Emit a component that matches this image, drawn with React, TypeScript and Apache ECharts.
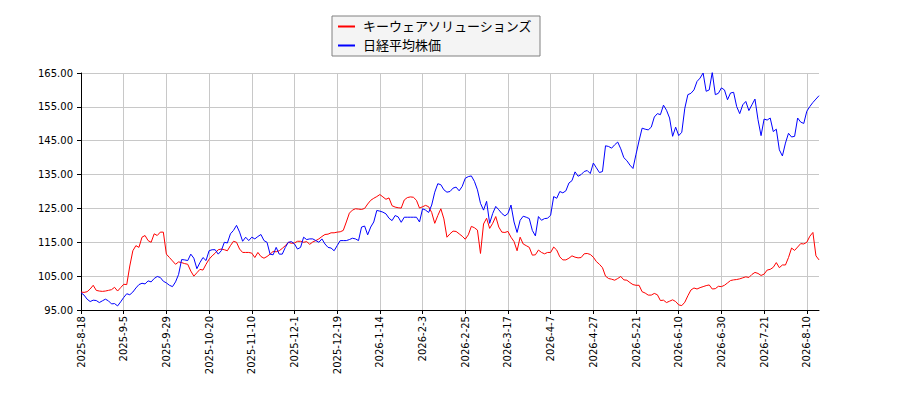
import { useEffect, useRef } from "react";
import * as echarts from "echarts";

const tickLabels = [
  "2025-8-18", "2025-9-5", "2025-9-29", "2025-10-20", "2025-11-10", "2025-12-1",
  "2025-12-19", "2026-1-14", "2026-2-3", "2026-2-25", "2026-3-17", "2026-4-7",
  "2026-4-27", "2026-5-21", "2026-6-10", "2026-6-30", "2026-7-21", "2026-8-10",
];

// trading days, one tick label every 14 sessions
const TICK_EVERY = 14;

const keyware = [
  100.3, 100.2, 100.4, 101.2, 102.3, 100.8, 100.6, 100.5, 100.6, 100.8, 101.0, 101.7, 100.6, 101.6,
  102.6, 102.5, 108, 112.5, 114, 113.5, 116.5, 117, 115.5, 115, 117.5, 117, 118, 118,
  111.5, 110.5, 109.5, 108.5, 109.2, 109, 108.7, 108.5, 106.5, 105, 106, 107, 106.8, 108.5,
  110, 111, 111.8, 112.8, 113, 112.8, 112.5, 114, 115.3, 115, 113, 112, 112, 112,
  111.8, 110.5, 112, 110.8, 110.3, 110.8, 111.5, 112.3, 112.2, 112.5, 113.2, 114, 115, 114.7,
  114.8, 115.3, 115.3, 115, 115.2, 114.4, 115.1, 115.5, 116, 116.7, 117.3, 117.4, 117.8, 117.8,
  118, 118.1, 118.5, 121, 123.6, 124.5, 124.9, 124.8, 124.7, 125, 126.3, 127.4, 128, 128.5,
  129.1, 128.4, 127.7, 128.1, 125.8, 125.4, 125.2, 125.1, 127.5, 128.2, 128.4, 128.3, 127.4, 125.1,
  125.5, 125.9, 125.5, 123.8, 120.6, 122.9, 124.9, 121.9, 116.5, 117.5, 118.3, 118.2, 117.5, 116.8,
  115.9, 117.2, 119.7, 119.3, 118.6, 111.7, 120.4, 122.1, 119.1, 120.6, 122.6, 119.5, 118, 117.9,
  118.2, 116.5, 115.2, 112.5, 116.5, 114.5, 114, 113.5, 111.2, 111.3, 112.7, 112, 111.6, 112,
  112, 113.6, 112.7, 110.7, 109.8, 109.8, 110.3, 111, 110.6, 110.4, 110.5, 111.6, 111.7, 111.4,
  110.6, 109.3, 108.5, 107.5, 105, 104.3, 104.1, 103.8, 104.3, 104.9, 103.9, 103.8, 103.1, 102.5,
  102.3, 102.3, 100.4, 100, 99.4, 99.4, 99.9, 99.5, 97.8, 97.9, 97.2, 97.6, 98, 97.5,
  96.5, 96.3, 97.3, 99.2, 100.9, 101.5, 101.2, 101.6, 101.9, 102.2, 102.4, 101.2, 101.3, 102,
  101.9, 102.3, 103, 103.7, 103.9, 104, 104.2, 104.5, 104.8, 104.6, 105.5, 106.1, 105.8, 105.2,
  105.6, 106.8, 107, 107.6, 109, 107.5, 108.3, 108.3, 110.5, 113.3, 112.6, 113.6, 114.6, 114.5,
  115, 116.8, 117.9, 111, 109.8,
];

const nikkei = [
  100.1, 99.4, 98.2, 97.5, 97.9, 97.8, 97.2, 97.7, 98.2, 97.7, 96.8, 96.9, 96.2, 97.4,
  98.7, 99.8, 99.5, 100.3, 101.5, 102.5, 102.9, 102.7, 103.6, 103.3, 104.3, 104.9, 104.6, 103.5,
  103, 102.3, 101.9, 103.3, 105.5, 109.9, 109.8, 109.6, 111.5, 110.3, 107.2, 109, 110.5, 109.6,
  112.5, 112.8, 112.8, 111.5, 112.5, 115, 114.8, 117.5, 118.5, 120, 118, 115.3, 116.5, 115.5,
  116.5, 116, 116.7, 117.3, 115.5, 115, 111.5, 111.3, 113.5, 111.5, 111.5, 113.5, 115, 115.2,
  114.5, 113, 113.5, 116.5, 115.8, 116, 116, 115.5, 115, 116, 114.5, 113.5, 113.3, 112.5,
  114, 115.5, 115.5, 115.5, 115.8, 116.2, 116, 115.5, 119.5, 119.8, 117.2, 119.5, 121, 124.4,
  124.2, 123.9, 123.4, 122.1, 121.4, 122.9, 122.5, 120.9, 122.4, 122.4, 122.4, 122.4, 122.4, 121,
  124.9, 124.5, 123.8, 126, 129.8, 132.3, 132, 130.5, 129.8, 130, 131, 131.3, 130.2, 131.5,
  133.9, 134.4, 134.6, 133, 130.5, 126.5, 124.5, 127.1, 120.6, 123.5, 125.6, 124.6, 123.5, 122.8,
  123.5, 126, 121, 117.9, 121.5, 122.7, 122.4, 122, 118.5, 116.9, 122.6, 121.5, 122, 122.1,
  123, 128.5, 128, 130, 129.6, 130.2, 132.5, 133.2, 135.8, 134.5, 135, 135.9, 136.2, 135.3,
  138.4, 137, 135.6, 135.9, 143.5, 143.3, 142.8, 143.8, 144.6, 142.6, 140, 139.1, 137.8, 136.8,
  141, 145, 148.7, 148.4, 148.2, 149, 152, 153, 152.7, 155.5, 154, 151.7, 146.3, 149,
  146.5, 147.5, 154.6, 158.6, 159, 160, 162.5, 163.5, 165, 159.6, 160, 165.2, 158.6, 159,
  160.6, 160, 157.1, 159.1, 159.3, 155.1, 153, 155.6, 156.6, 153.9, 155.6, 157.3, 151.2, 146.5,
  151.4, 151.1, 151.7, 147.7, 148.4, 142.3, 140.5, 144.3, 147.2, 146.1, 146.3, 151.7, 150.5, 150.1,
  153.7, 155.1, 156.3, 157.3, 158.3,
];

const seriesNames = ["キーウェアソリューションズ", "日経平均株価"];

const FONT = "'DejaVu Sans', 'Noto Sans CJK JP', sans-serif";

const onTick = (index: number) => index % TICK_EVERY === 0;

export default function App() {
  const ref = useRef<HTMLDivElement>(null);

  useEffect(() => {
    if (!ref.current) return;
    const chart = echarts.init(ref.current, undefined, { renderer: "svg" });
    const days = keyware.map((_, i) => String(i));

    chart.setOption({
      animation: false,
      backgroundColor: "#ffffff",
      textStyle: { fontFamily: FONT },
      grid: { left: 81, right: 81, top: 73, bottom: 90 },
      legend: {
        orient: "vertical",
        left: 332,
        top: 16,
        padding: [3, 8, 3, 6],
        itemGap: 4,
        itemWidth: 17,
        itemHeight: 2,
        icon: "rect",
        backgroundColor: "#f4f4f4",
        borderColor: "#808080",
        borderWidth: 1,
        borderRadius: 0,
        textStyle: {
          fontFamily: FONT,
          fontSize: 13,
          lineHeight: 15,
          color: "#000",
          padding: [0, 0, 0, 3],
        },
        data: seriesNames,
      },
      xAxis: {
        type: "category",
        boundaryGap: false,
        data: days,
        axisLine: { lineStyle: { color: "#000", width: 1 } },
        axisTick: { interval: onTick, length: 4, lineStyle: { color: "#000" } },
        splitLine: { show: true, interval: onTick, lineStyle: { color: "#c8c8c8", width: 1 } },
        axisLabel: {
          interval: onTick,
          rotate: 90,
          margin: 6,
          fontSize: 10,
          fontFamily: FONT,
          color: "#000",
          formatter: (v: string) => {
            const i = Number(v);
            return i % TICK_EVERY === 0 ? tickLabels[i / TICK_EVERY] ?? "" : "";
          },
        },
      },
      yAxis: {
        type: "value",
        min: 95,
        max: 165,
        interval: 10,
        axisLine: { show: true, lineStyle: { color: "#000", width: 1 } },
        axisTick: { show: true, length: 4, lineStyle: { color: "#000" } },
        splitLine: { lineStyle: { color: "#c8c8c8", width: 1 } },
        axisLabel: {
          margin: 8,
          fontSize: 10,
          fontFamily: FONT,
          color: "#000",
          formatter: (v: number) => v.toFixed(2),
        },
      },
      series: [
        {
          name: seriesNames[0],
          type: "line",
          data: keyware,
          symbol: "none",
          lineStyle: { color: "#ff0000", width: 1 },
          itemStyle: { color: "#ff0000" },
        },
        {
          name: seriesNames[1],
          type: "line",
          data: nikkei,
          symbol: "none",
          lineStyle: { color: "#0000ff", width: 1 },
          itemStyle: { color: "#0000ff" },
        },
      ],
    });

    return () => {
      chart.dispose();
    };
  }, []);

  return (
    <div
      ref={ref}
      style={{ position: "absolute", left: 0, top: 0, width: 900, height: 400 }}
    />
  );
}
